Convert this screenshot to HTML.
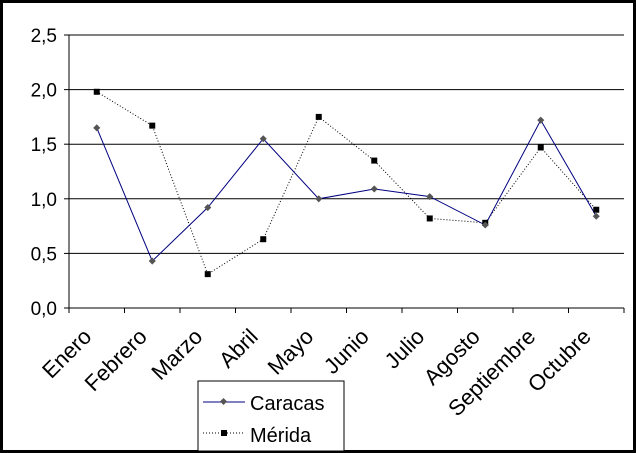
<!DOCTYPE html>
<html><head><meta charset="utf-8"><style>
html,body{margin:0;padding:0;background:#000;}
svg{display:block;font-family:"Liberation Sans",sans-serif;}
</style></head><body>
<svg width="636" height="453" viewBox="0 0 636 453">
<rect x="3" y="3" width="630" height="447" fill="#fff"/>
<g id="grid"></g><g id="axes"></g><g id="series"></g>
<g>
<rect x="198" y="381" width="146" height="70" fill="#fff" stroke="#000" stroke-width="1"/>
<line x1="203" y1="402" x2="245" y2="402" stroke="#000080" stroke-width="1"/>
<rect x="221" y="399" width="5" height="5" fill="#555" transform="rotate(45 223.5 401.5)"/>
<text x="250" y="410" font-size="20">Caracas</text>
<line x1="203" y1="433" x2="245" y2="433" stroke="#000" stroke-width="1" stroke-dasharray="1,2"/>
<rect x="221" y="430" width="6" height="6" fill="#000"/>
<text x="250" y="442" font-size="20">Mérida</text>
</g>
</svg>
<script>
const categories=["Enero","Febrero","Marzo","Abril","Mayo","Junio","Julio","Agosto","Septiembre","Octubre"];
const caracas=[1.65,0.43,0.92,1.55,1.0,1.09,1.02,0.76,1.72,0.84];
const merida=[1.98,1.67,0.31,0.63,1.75,1.35,0.82,0.78,1.47,0.90];
const yTicks=["0,0","0,5","1,0","1,5","2,0","2,5"];
const NS="http://www.w3.org/2000/svg";
const x0=69,x1=624,yb=308,yt=35,ymax=2.5;
const band=(x1-x0)/categories.length;
const xs=i=>x0+band*(i+0.5);
const ys=v=>yb-(v/ymax)*(yb-yt);
function mk(t,a,p){const e=document.createElementNS(NS,t);for(const k in a)e.setAttribute(k,a[k]);p.appendChild(e);return e;}
const grid=document.getElementById('grid'),axes=document.getElementById('axes'),ser=document.getElementById('series');
yTicks.forEach((t,i)=>{const v=i*0.5,y=ys(v);
 if(i>0){const g=mk('line',{x1:x0,x2:x1,y1:y,y2:y,stroke:'#000','stroke-width':1},grid);
 
 }
 mk('line',{x1:x0-5,x2:x0,y1:y,y2:y,stroke:'#000'},axes);
 const tx=mk('text',{x:x0-12,y:y+7,'font-size':19,'text-anchor':'end'},axes);tx.textContent=t;
 
 
});
mk('line',{x1:x0,x2:x0,y1:yt,y2:yb,stroke:'#000'},axes);
mk('line',{x1:x0,x2:x1,y1:yb,y2:yb,stroke:'#000'},axes);
for(let i=0;i<=categories.length;i++){const x=x0+band*i;mk('line',{x1:x,x2:x,y1:yb,y2:yb+5,stroke:'#000'},axes);}
categories.forEach((c,i)=>{const x=xs(i)-4,y=yb+30;
 const t=mk('text',{x:x,y:y,'font-size':22,'text-anchor':'end',transform:`rotate(-45 ${x} ${y})`},axes);t.textContent=c;
 
 
});
const pm=mk('polyline',{points:merida.map((v,i)=>xs(i)+','+ys(v)).join(' '),fill:'none',stroke:'#000','stroke-dasharray':'1,2'},ser);


const pc=mk('polyline',{points:caracas.map((v,i)=>xs(i)+','+ys(v)).join(' '),fill:'none',stroke:'#000080'},ser);


merida.forEach((v,i)=>{const r=mk('rect',{x:xs(i)-3,y:ys(v)-3,width:6,height:6,fill:'#000'},ser);
 
 });
caracas.forEach((v,i)=>{const x=xs(i),y=ys(v);const r=mk('rect',{x:x-2.5,y:y-2.5,width:5,height:5,fill:'#555',transform:`rotate(45 ${x} ${y})`},ser);
 
 });
</script>
</body></html>
